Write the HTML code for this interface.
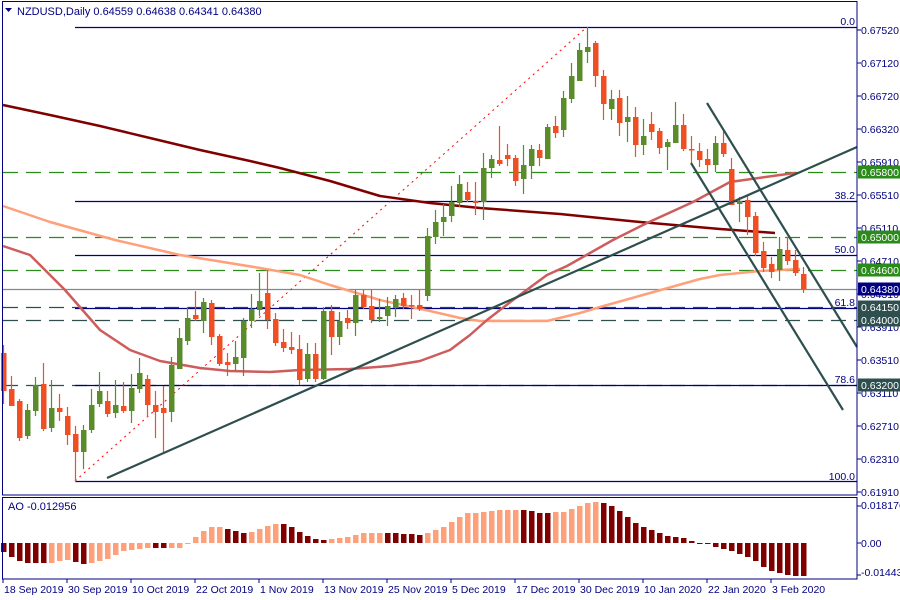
<!DOCTYPE html>
<html><head><meta charset="utf-8"><style>
html,body{margin:0;padding:0;background:#fff;}
svg{display:block;font-family:"Liberation Sans",sans-serif;}
</style></head><body>
<svg id="s" width="900" height="600" viewBox="0 0 900 600" xmlns="http://www.w3.org/2000/svg">
<rect width="900" height="600" fill="#fff"/>
<g id="hl"></g>
<g id="ma"></g>
<g id="cd"></g>
<g id="ao"></g>
<g id="tl"></g>
<rect x="2.5" y="1.5" width="854.5" height="493.5" fill="none" stroke="#000080" stroke-width="1"/>
<rect x="2.5" y="497.5" width="854.5" height="81.5" fill="none" stroke="#000080" stroke-width="1"/>
<g font-size="11" fill="#000080">
<text x="17" y="15">NZDUSD,Daily  0.64559 0.64638 0.64341 0.64380</text>
<text x="8" y="510">AO -0.012956</text>
</g>
<path d="M5 8 L12 8 L8.5 12 Z" fill="#000080"/>
<g id="rax" font-size="10.5" fill="#000080"></g>
<g font-size="10.5" fill="#000080" text-anchor="end">
<text x="855" y="25">0.0</text>
<text x="855" y="199">38.2</text>
<text x="855" y="253">50.0</text>
<text x="855" y="306">61.8</text>
<text x="855" y="383">78.6</text>
<text x="855" y="480">100.0</text>
</g>
<g font-size="10.5" fill="#000080">
<text x="861" y="509">0.018176</text>
<text x="861" y="547">0.00</text>
<text x="861" y="576">-0.014439</text>
</g>
<g id="dax" font-size="10.5" fill="#000080">
<text x="4" y="593">18 Sep 2019</text>
<text x="68" y="593">30 Sep 2019</text>
<text x="132" y="593">10 Oct 2019</text>
<text x="196" y="593">22 Oct 2019</text>
<text x="260" y="593">1 Nov 2019</text>
<text x="324" y="593">13 Nov 2019</text>
<text x="388" y="593">25 Nov 2019</text>
<text x="452" y="593">5 Dec 2019</text>
<text x="516" y="593">17 Dec 2019</text>
<text x="580" y="593">30 Dec 2019</text>
<text x="644" y="593">10 Jan 2020</text>
<text x="708" y="593">22 Jan 2020</text>
<text x="772" y="593">3 Feb 2020</text>
</g>
<g id="lt">
<text x="861" y="34" font-size="10.5" fill="#000080">0.67520</text>
<text x="861" y="67" font-size="10.5" fill="#000080">0.67120</text>
<text x="861" y="100" font-size="10.5" fill="#000080">0.66720</text>
<text x="861" y="133" font-size="10.5" fill="#000080">0.66320</text>
<text x="861" y="166" font-size="10.5" fill="#000080">0.65910</text>
<text x="861" y="199" font-size="10.5" fill="#000080">0.65510</text>
<text x="861" y="232" font-size="10.5" fill="#000080">0.65110</text>
<text x="861" y="265" font-size="10.5" fill="#000080">0.64710</text>
<text x="861" y="298" font-size="10.5" fill="#000080">0.64310</text>
<text x="861" y="331" font-size="10.5" fill="#000080">0.63910</text>
<text x="861" y="364" font-size="10.5" fill="#000080">0.63510</text>
<text x="861" y="397" font-size="10.5" fill="#000080">0.63110</text>
<text x="861" y="430" font-size="10.5" fill="#000080">0.62710</text>
<text x="861" y="463" font-size="10.5" fill="#000080">0.62310</text>
<text x="861" y="496" font-size="10.5" fill="#000080">0.61910</text>
</g>
<g id="boxes"></g>
<g font-size="10.5" fill="#fff">
<text x="861" y="176">0.65800</text>
<text x="861" y="241">0.65000</text>
<text x="861" y="274">0.64600</text>
<text x="861" y="293">0.64380</text>
<text x="861" y="311">0.64150</text>
<text x="861" y="324">0.64000</text>
<text x="861" y="389">0.63200</text>
</g>
</svg>
<script>
var NS="http://www.w3.org/2000/svg";
function el(p,t,a){var e=document.createElementNS(NS,t);for(var k in a)e.setAttribute(k,a[k]);document.getElementById(p).appendChild(e);return e;}
el('hl','line',{x1:3,x2:857,y1:289.5,y2:289.5,stroke:'#808890','stroke-width':1.2});
[172,237,270].forEach(function(y){el('hl','line',{x1:3,x2:857,y1:y+.5,y2:y+.5,stroke:'#2a8a1a','stroke-width':1.2,'stroke-dasharray':'15 8'});});
[307,320,385].forEach(function(y){el('hl','line',{x1:3,x2:857,y1:y+.5,y2:y+.5,stroke:'#2f4f4f','stroke-width':1.2,'stroke-dasharray':'15 8'});});
[27,201,255,308,385,481].forEach(function(y){el('hl','line',{x1:75,x2:857,y1:y+.5,y2:y+.5,stroke:'#000080','stroke-width':1.3});});
el('hl','line',{x1:75,y1:481,x2:587,y2:27,stroke:'#ff0000','stroke-width':1,'stroke-dasharray':'2 4'});
function pl(pts,c,w){el('ma','polyline',{points:pts,fill:'none',stroke:c,'stroke-width':w,'stroke-linejoin':'round'});}
pl("3,105 50,115 100,126 150,138 200,150 250,161 280,168 330,181 380,196 430,203 480,208 560,214 640,222 720,229 775,233",'#800000',2.5);
pl("3,206 50,222 115,240 180,255 260,268 300,275 330,285 380,300 430,311 460,318 480,321 547,321 580,313 600,307 650,293 700,279 720,275 760,271 800,269",'#ffa07a',2.5);
pl("3,246 30,255 65,290 100,330 130,350 160,361 200,368 230,371 270,372 300,370 350,369 390,366 420,361 450,350 470,335 487,320 513,300 547,275 567,266 613,240 647,223 693,202 730,182 780,175 795,173",'#cd5c5c',2.5);
var C=[
"r 353 391 345 404","r 389 406 376 406","r 401 438 399 441","g 410 436 404 439","g 385 411 377 416","r 384 429 363 431","g 408 428 380 432","r 408 412 394 421","r 416 435 407 445","r 434 452 426 482",
"g 430 452 425 469","g 405 430 389 433","g 391 404 372 407","r 401 414 391 417","g 405 413 380 418","r 406 411 382 413","g 388 411 374 423","g 373 389 358 393","r 379 405 375 417","r 405 412 391 438",
"r 408 413 386 452","g 365 412 357 422","g 338 369 328 369","g 318 341 307 345","r 315 319 291 321","g 302 321 298 333","r 303 337 300 345","r 336 364 334 366","r 362 365 353 376","g 357 364 341 371",
"g 321 358 318 376","g 309 321 294 328","g 301 310 273 316","r 293 320 270 329","r 319 343 313 346","r 342 348 329 352","r 347 350 332 354","r 349 380 335 385","g 354 379 343 382","r 354 379 343 382",
"g 311 379 307 380","r 311 337 305 355","g 321 337 312 345","r 318 323 310 329","g 295 323 290 336","r 295 307 290 309","r 306 320 290 323","g 317 319 299 322","g 306 316 297 326","g 299 308 295 317",
"r 298 306 293 309","r 305 306 295 319","r 305 309 290 311","g 236 296 228 301","g 222 237 210 244","g 217 222 204 236","g 202 216 186 222","g 184 203 175 207","r 192 200 182 202","r 201 203 182 215",
"g 168 202 153 220","g 159 168 155 178","r 160 164 126 166","r 155 159 144 166","r 158 181 155 186","g 165 179 145 194","g 149 166 145 179","r 150 158 144 166","g 127 159 124 159","r 126 133 116 138",
"g 98 130 91 137","g 76 99 63 103","g 50 81 43 81","g 47 52 27 63","r 43 76 41 87","r 76 104 70 120","g 99 109 90 120","r 98 123 90 136","g 117 122 96 142","r 117 145 107 157",
"g 136 145 119 155","r 124 132 112 140","r 131 148 128 154","g 142 147 139 170","g 125 143 102 143","r 125 149 114 151","r 149 150 136 164","r 151 160 143 167","r 159 165 149 172","g 143 165 136 172",
"r 143 154 131 157","r 169 205 158 205","g 201 204 197 222","r 200 217 196 235","r 216 253 212 256","r 251 268 242 272","r 264 272 257 278","g 249 270 237 281","r 250 261 237 265","r 260 273 250 276","r 274 289 267 293"];
C.forEach(function(s,i){var a=s.split(' '),c=a[0]=='r'?'#f04e23':'#5a8c2c',x=3.5+8*i;
var bt=+a[1],bb=+a[2],wt=+a[3],wb=+a[4];
el('cd','line',{x1:x,x2:x,y1:Math.min(wt,bt),y2:Math.max(wb,bb),stroke:c,'stroke-width':1.2});
el('cd','rect',{x:x-2.5,y:bt,width:5.5,height:Math.max(bb-bt,1.5),fill:c});});
var A="552d 557d 561d 563d 563d 563d 563l 561l 560l 562d 564d 563l 561l 559l 555l 551l 550l 549l 548l 548d 548d 548l 548l 544l 537l 531l 527l 527l 529d 531d 533d 532l 529l 526l 524l 524d 527d 532d 536d 539d 540d 539l 538l 537l 535l 533l 533l 533l 533d 533d 534d 534d 535d 533l 530l 527l 522l 517l 513l 513l 512l 511l 510l 510l 510l 510d 511d 513d 513d 512l 512l 509l 506l 503l 502l 503d 506d 511d 517d 523d 527d 530d 533d 536d 537d 538d 541d 544d 544d 547d 549d 551d 554d 557d 561d 567d 571d 573d 575d 576d 576d".split(' ');
A.forEach(function(s,i){var v=parseInt(s),c=s.slice(-1)=='d'?'#800000':'#ffa07a',x=3.5+8*i,z=543;
var y=Math.min(v,z),h=Math.max(Math.abs(v-z),1);el('ao','rect',{x:x-2.5,y:y,width:5.5,height:h,fill:c});});
function tl(x1,y1,x2,y2){el('tl','line',{x1:x1,y1:y1,x2:x2,y2:y2,stroke:'#2f4f4f','stroke-width':2.2});}
tl(107,478,857,147);tl(707,103,857,347);tl(691,163,843,410);
for(var k=0;k<15;k++){el('rax','line',{x1:857,x2:861,y1:30+k*33,y2:30+k*33,stroke:'#000080'});}
[543,506,575].forEach(function(y){el('rax','line',{x1:857,x2:861,y1:y,y2:y,stroke:'#000080'});});
for(var k=0;k<13;k++){el('rax','line',{x1:3+64*k,x2:3+64*k,y1:579,y2:583,stroke:'#000080'});}
[[172,'#2a8a1a'],[237,'#2a8a1a'],[270,'#2a8a1a'],[289,'#000080'],[307,'#2f4f4f'],[320,'#2f4f4f'],[385,'#2f4f4f']].forEach(function(b){
el('boxes','rect',{x:858,y:b[0]-6.5,width:42,height:13,fill:b[1]});});
</script>
</body></html>
